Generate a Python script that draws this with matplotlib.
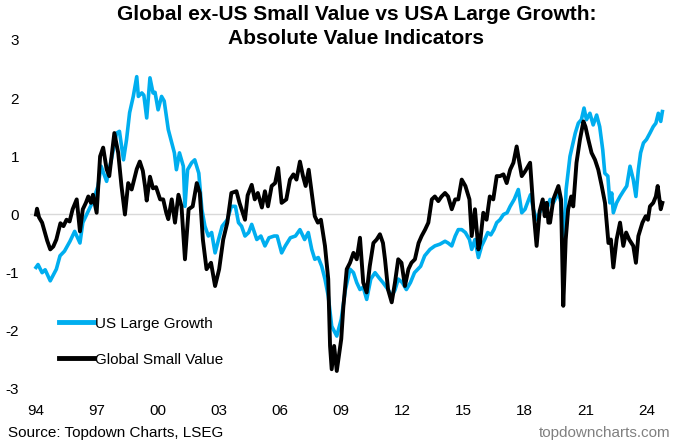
import numpy as np
import matplotlib.pyplot as plt

plt.rcParams['font.family'] = ['Liberation Sans', 'DejaVu Sans']

# values (x in fractional years)
growth_t = [1994.0, 1994.1, 1994.3, 1994.45, 1994.7, 1995.0, 1995.18, 1995.4, 1995.67, 1995.9,
            1996.16, 1996.3, 1996.57, 1996.8, 1997.05, 1997.2, 1997.47, 1997.7, 1997.96, 1998.1,
            1998.3, 1998.45, 1998.6, 1998.78, 1998.95, 1999.03, 1999.2, 1999.3, 1999.44, 1999.6,
            1999.75, 1999.85, 2000.0, 2000.17, 2000.3, 2000.5, 2000.67, 2000.8, 2000.9, 2001.05,
            2001.24, 2001.32, 2001.45, 2001.65, 2001.8, 2002.0, 2002.15, 2002.3, 2002.47, 2002.63,
            2002.8, 2002.97, 2003.15, 2003.4, 2003.6, 2003.8, 2003.95, 2004.1, 2004.27, 2004.45,
            2004.6, 2004.85, 2005.05, 2005.25, 2005.45, 2005.7, 2005.85, 2006.07, 2006.25, 2006.5,
            2006.75, 2006.97, 2007.2, 2007.38, 2007.55, 2007.7, 2007.87, 2008.04, 2008.2, 2008.36,
            2008.53, 2008.78, 2009.0, 2009.2, 2009.43, 2009.6, 2009.76, 2009.92, 2010.08, 2010.25,
            2010.45, 2010.66, 2010.86, 2011.05, 2011.3, 2011.48, 2011.64, 2011.8, 2012.0, 2012.2,
            2012.4, 2012.6, 2012.9, 2013.1, 2013.36, 2013.6, 2013.85, 2014.1, 2014.25, 2014.43,
            2014.6, 2014.75, 2014.92, 2015.1, 2015.3, 2015.41, 2015.57, 2015.74, 2015.9, 2016.05,
            2016.2, 2016.35, 2016.5, 2016.64, 2016.8, 2016.97, 2017.15, 2017.3, 2017.5, 2017.7,
            2017.87, 2018.03, 2018.15, 2018.3, 2018.44, 2018.6, 2018.75, 2018.9, 2019.05, 2019.15,
            2019.26, 2019.42, 2019.67, 2019.8, 2019.91, 2020.05, 2020.24, 2020.35, 2020.5, 2020.65,
            2020.8, 2020.93, 2021.05, 2021.22, 2021.38, 2021.55, 2021.7, 2021.85, 2021.95, 2022.1,
            2022.2, 2022.29, 2022.37, 2022.53, 2022.7, 2022.86, 2023.03, 2023.19, 2023.35, 2023.48,
            2023.6, 2023.71, 2023.85, 2024.0, 2024.17, 2024.33, 2024.46, 2024.58, 2024.7, 2024.78]
growth = [-0.91, -0.86, -1.0, -0.95, -1.14, -0.94, -0.71, -0.63, -0.46, -0.29,
          -0.49, -0.14, 0.06, 0.23, 0.49, 0.83, 0.57, 0.94, 1.4, 1.43,
          0.94, 1.29, 1.75, 2.03, 2.37, 2.03, 2.09, 2.05, 1.66, 2.35,
          2.09, 2.1, 1.8, 2.03, 1.95, 1.46, 1.23, 1.06, 0.77, 1.06,
          0.83, 0.14, 0.77, 0.89, 0.94, 0.71, 0.09, -0.2, -0.37, -0.31,
          -0.66, -0.43, -0.2, -0.09, 0.14, 0.14, -0.14, -0.2, -0.37, -0.31,
          -0.17, -0.43, -0.37, -0.54, -0.4, -0.37, -0.37, -0.66, -0.54, -0.4,
          -0.37, -0.26, -0.43, -0.31, -0.6, -0.77, -0.74, -0.89, -1.11, -1.4,
          -1.92, -2.09, -1.8, -1.3, -0.94, -1.0, -1.17, -1.29, -1.25, -1.46,
          -1.11, -1.0, -1.09, -1.17, -1.29, -1.4, -1.3, -1.11, -1.17, -1.29,
          -1.17, -1.0, -0.89, -0.71, -0.6, -0.54, -0.51, -0.46, -0.49, -0.54,
          -0.37, -0.26, -0.26, -0.31, -0.43, -0.6, -0.43, -0.74, -0.54, -0.43,
          -0.31, -0.35, -0.26, -0.14, -0.09, 0.0, 0.03, 0.14, 0.26, 0.43,
          0.03, 0.09, 0.2, 0.34, 0.09, -0.09, 0.03, 0.14, 0.2, 0.14,
          0.26, 0.2, 0.37, 0.2, -0.71, 0.43, 1.0, 1.17, 1.4, 1.57,
          1.63, 1.83, 1.63, 1.74, 1.54, 1.71, 1.51, 1.11, 0.71, 0.66,
          0.2, 0.37, 0.03, 0.2, 0.31, 0.4, 0.49, 0.83, 0.6, 0.31,
          0.77, 1.06, 1.23, 1.29, 1.4, 1.51, 1.57, 1.74, 1.6, 1.77]

value_t = [1994.0, 1994.05, 1994.15, 1994.3, 1994.55, 1994.7, 1994.85, 1995.0, 1995.2, 1995.35,
           1995.5, 1995.65, 1995.8, 1996.0, 1996.16, 1996.3, 1996.45, 1996.57, 1996.7, 1996.8,
           1996.98, 1997.15, 1997.3, 1997.47, 1997.6, 1997.85, 1998.04, 1998.2, 1998.37, 1998.53,
           1998.7, 1998.95, 1999.1, 1999.25, 1999.36, 1999.44, 1999.6, 1999.75, 1999.9, 2000.1,
           2000.25, 2000.4, 2000.5, 2000.67, 2000.83, 2001.0, 2001.15, 2001.32, 2001.5, 2001.7,
           2001.9, 2002.05, 2002.2, 2002.38, 2002.6, 2002.8, 2003.0, 2003.2, 2003.4, 2003.6,
           2003.85, 2004.0, 2004.27, 2004.4, 2004.6, 2004.75, 2004.9, 2005.1, 2005.25, 2005.4,
           2005.58, 2005.75, 2005.9, 2006.07, 2006.3, 2006.48, 2006.65, 2006.8, 2006.97, 2007.12,
           2007.25, 2007.4, 2007.55, 2007.7, 2007.85, 2008.0, 2008.2, 2008.36, 2008.45, 2008.53,
           2008.65, 2008.78, 2009.0, 2009.1, 2009.27, 2009.43, 2009.6, 2009.76, 2009.92, 2010.08,
           2010.25, 2010.4, 2010.58, 2010.74, 2010.9, 2011.05, 2011.15, 2011.3, 2011.48, 2011.64,
           2011.8, 2011.96, 2012.13, 2012.3, 2012.45, 2012.62, 2012.8, 2012.95, 2013.12, 2013.28,
           2013.45, 2013.6, 2013.77, 2013.93, 2014.1, 2014.25, 2014.43, 2014.6, 2014.75, 2014.92,
           2015.1, 2015.3, 2015.41, 2015.57, 2015.74, 2015.82, 2015.98, 2016.14, 2016.3, 2016.47,
           2016.64, 2016.8, 2016.97, 2017.13, 2017.3, 2017.46, 2017.62, 2017.73, 2017.87, 2018.03,
           2018.28, 2018.44, 2018.6, 2018.75, 2018.9, 2019.0, 2019.1, 2019.18, 2019.26, 2019.42,
           2019.67, 2019.8, 2019.91, 2020.03, 2020.15, 2020.3, 2020.4, 2020.56, 2020.73, 2020.9,
           2021.0, 2021.14, 2021.3, 2021.47, 2021.63, 2021.8, 2021.96, 2022.13, 2022.25, 2022.37,
           2022.53, 2022.7, 2022.86, 2023.0, 2023.15, 2023.35, 2023.48, 2023.6, 2023.8, 2023.96,
           2024.07, 2024.17, 2024.33, 2024.46, 2024.55, 2024.7, 2024.78]
value = [0.0, 0.1, -0.05, -0.14, -0.45, -0.6, -0.55, -0.43, -0.15, -0.2,
         -0.09, -0.12, 0.09, 0.26, -0.29, 0.09, 0.2, 0.31, 0.2, 0.34,
         0.03, 1.0, 1.15, 0.78, 0.66, 1.4, 1.06, 0.49, 0.0, 0.54,
         0.43, 0.78, 0.91, 0.75, 0.48, 0.24, 0.65, 0.45, 0.47, 0.26,
         0.26, 0.03, -0.08, 0.26, -0.14, 0.34, 0.14, -0.77, 0.09, 0.14,
         0.54, 0.37, -0.43, -0.94, -0.83, -1.23, -0.94, -0.43, -0.14, 0.37,
         0.4, 0.2, -0.09, 0.33, 0.51, 0.26, 0.37, 0.12, 0.4, 0.14,
         0.49, 0.54, 0.8, 0.2, 0.26, 0.6, 0.69, 0.6, 0.91, 0.66,
         0.49, 0.77, 0.37, -0.03, -0.14, -0.09, -0.54, -1.11, -2.26, -2.66,
         -2.26, -2.69, -2.14, -1.6, -0.94, -0.83, -0.66, -0.77, -0.4, -1.17,
         -1.34, -0.89, -0.49, -0.43, -0.34, -0.49, -0.77, -1.29, -1.51, -1.17,
         -0.77, -0.83, -1.23, -0.94, -0.83, -0.77, -0.49, -0.37, -0.26, -0.14,
         0.26, 0.31, 0.23, 0.31, 0.37, 0.31, 0.09, 0.26, 0.26, 0.6,
         0.49, 0.26, -0.37, 0.09, -0.6, -0.49, 0.03, -0.09, 0.31, 0.26,
         0.66, 0.66, 0.69, 0.54, 0.77, 0.89, 1.17, 0.94, 0.66, 0.74,
         0.89, 0.09, -0.54, 0.06, 0.26, -0.03, 0.2, -0.14, -0.14, 0.26,
         0.49, 0.26, -1.57, -0.43, 0.09, 0.31, 0.14, 0.89, 1.29, 1.6,
         1.51, 1.29, 1.06, 0.94, 0.77, 0.49, 0.2, -0.49, -0.43, -0.91,
         -0.43, -0.14, -0.54, -0.31, -0.43, -0.54, -0.83, -0.37, -0.14, -0.03,
         -0.09, 0.14, 0.2, 0.31, 0.49, 0.09, 0.2]

tick_years = [1994, 1997, 2000, 2003, 2006, 2009, 2012, 2015, 2018, 2021, 2024]

fig = plt.figure(figsize=(6.79, 4.46), dpi=100)
ax = fig.add_axes([30/679, 1 - 389/446, 640/679, 349/446])

ax.axhline(0, color='#d9d9d9', lw=1, zorder=1)
ax.plot(growth_t, growth, color='#00aeef', lw=2.6, label='US Large Growth', zorder=2)
ax.plot(value_t, value, color='black', lw=2.8, label='Global Small Value', zorder=3)

ax.set_xlim(1994 - 6/20.35, 1994 + 640/20.35 - 6/20.35)
ax.set_ylim(-3, 3)
ax.set_yticks([-3, -2, -1, 0, 1, 2, 3])
ax.set_yticklabels(['-3', '-2', '-1', '0', '1', '2', '3'])
ax.set_xticks(tick_years)
ax.set_xticklabels([f"{y % 100:02d}" for y in tick_years])
ax.tick_params(length=0, labelsize=11, colors='black')
ax.tick_params(axis='y', pad=8)
ax.tick_params(axis='x', pad=11)
for s in ax.spines.values():
    s.set_visible(False)

leg = ax.legend(loc='upper left', bbox_to_anchor=(0.035, 0.225), frameon=False,
                fontsize=11, handlelength=2.3, handletextpad=0.1, labelspacing=1.45,
                borderaxespad=0)
for line in leg.get_lines():
    line.set_linewidth(3.5)

fig.text(0.525, 1 - 5/446, "Global ex-US Small Value vs USA Large Growth:\nAbsolute Value Indicators",
         ha='center', va='top', fontsize=15, fontweight='bold', linespacing=1.35)
fig.text(8/679, 1 - 433/446, "Source: Topdown Charts, LSEG", ha='left', va='center', fontsize=11)
fig.text(670/679, 1 - 433/446, "topdowncharts.com", ha='right', va='center', fontsize=11,
         color='#808080')

fig.savefig('out.png', dpi=100)
